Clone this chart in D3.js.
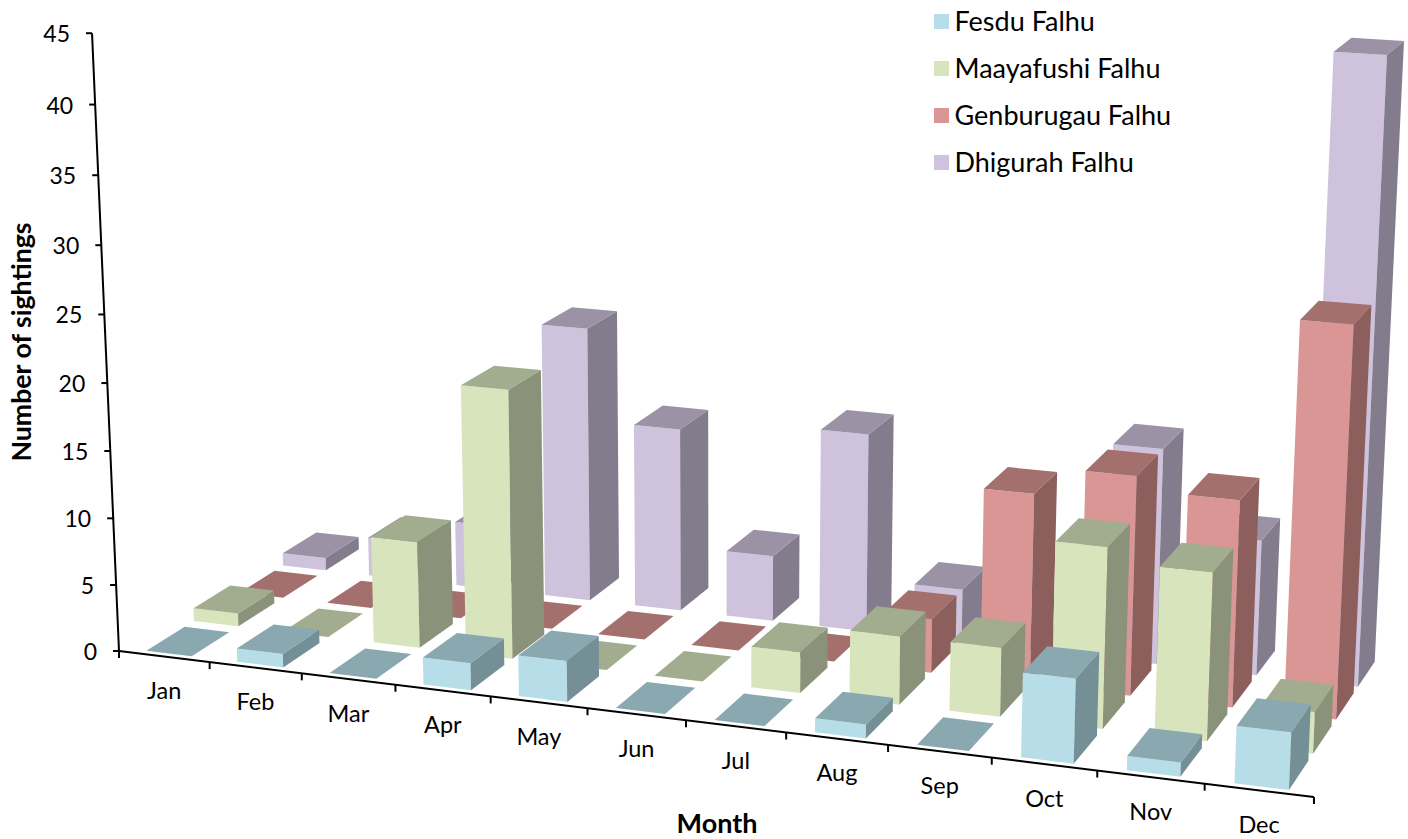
<!DOCTYPE html>
<html lang="en">
<head>
    <meta charset="UTF-8">
    <title>Sightings by month</title>
    <style>
        body { margin: 0; background: #fff; }
        text { font-family: Lato, "Open Sans", sans-serif; fill: #000; }
    </style>
</head>
<body>
    <div id="chart"></div>
    <script src="https://d3js.org/d3.v7.min.js"></script>
    <script>
        // Data
        const months = ["Jan", "Feb", "Mar", "Apr", "May", "Jun", "Jul", "Aug", "Sep", "Oct", "Nov", "Dec"];
        const seriesNames = ["Fesdu Falhu", "Maayafushi Falhu", "Genburugau Falhu", "Dhigurah Falhu"];
        const fesdu = [0, 1, 0, 2, 3, 0, 0, 1, 0, 6, 1, 4];
        const maayafushi = [1, 0, 8, 20, 0, 0, 3, 5, 5, 13, 12, 3];
        const genburugau = [0, 0, 0, 0, 0, 0, 0, 4, 14, 16, 15, 28];
        const dhigurah = [1, 3, 5, 21, 14, 5, 15, 4, 0, 16, 10, 45];
        const valueTicks = [0, 5, 10, 15, 20, 25, 30, 35, 40, 45];

        const seriesValues = [fesdu, maayafushi, genburugau, dhigurah];
        const frontColors = ["#b7dee8", "#d7e4bc", "#d99694", "#cec2dd"];
        const topColors = ["#89a8b0", "#a2ad8f", "#a4706e", "#9b92a5"];
        const sideColors = ["#748f96", "#8a9279", "#8c5f5d", "#827c8c"];

        const width = 1408, height = 839;

        const svg = d3.select("#chart").append("svg")
            .attr("width", width)
            .attr("height", height);

        // Scales in chart space: month along the floor, series into the depth, value upwards
        const x = d3.scaleBand().domain(months).range([0, 12]).paddingInner(0.5).paddingOuter(0.25);
        const z = d3.scaleBand().domain(seriesNames).range([0, 4]).paddingInner(0.2).paddingOuter(0.1);
        const y = d3.scaleLinear().domain([0, 45]).range([0, 1]);

        // Perspective camera (homogeneous matrix), fitted to the reference axes
        function project(u, v, h) {
            const w = 1 - 0.00809 * u + 0.023 * v - 0.04275 * h;
            return [
                (119 + 88.95 * u + 52.1 * v - 30.9 * h) / w,
                (651 + 5.72 * u - 15.4 * v - 619.2 * h) / w
            ];
        }

        const poly = pts => d3.line()(pts) + "Z";

        // Bars, back row first, left to right inside a row
        const bars = svg.append("g");
        d3.range(3, -1, -1).forEach(s => {
            months.forEach((m, i) => {
                const u0 = x(m), u1 = u0 + x.bandwidth();
                const v0 = z(seriesNames[s]), v1 = v0 + z.bandwidth();
                const h = y(seriesValues[s][i]);
                const g = bars.append("g");
                g.append("path")
                    .attr("fill", frontColors[s])
                    .attr("d", poly([project(u0, v0, 0), project(u1, v0, 0), project(u1, v0, h), project(u0, v0, h)]));
                g.append("path")
                    .attr("fill", sideColors[s])
                    .attr("d", poly([project(u1, v0, 0), project(u1, v1, 0), project(u1, v1, h), project(u1, v0, h)]));
                g.append("path")
                    .attr("fill", topColors[s])
                    .attr("d", poly([project(u0, v0, h), project(u1, v0, h), project(u1, v1, h), project(u0, v1, h)]));
            });
        });

        // Value axis
        const axes = svg.append("g").attr("stroke", "#000").attr("stroke-width", 2).attr("fill", "none");
        axes.append("path").attr("d", d3.line()([project(0, 0, y(0)), project(0, 0, y(45))]));
        valueTicks.forEach(t => {
            const p = project(0, 0, y(t));
            axes.append("line").attr("x1", p[0] - 6).attr("x2", p[0]).attr("y1", p[1]).attr("y2", p[1]);
            svg.append("text")
                .attr("x", p[0] - 22)
                .attr("y", p[1])
                .attr("text-anchor", "end")
                .attr("dominant-baseline", "central")
                .attr("font-size", 23)
                .text(t);
        });

        // Month axis
        axes.append("path").attr("d", d3.line()([project(0, 0, 0), project(12, 0, 0)]));
        d3.range(0, 13).forEach(t => {
            const p = project(t, 0, 0);
            axes.append("line").attr("x1", p[0]).attr("x2", p[0]).attr("y1", p[1]).attr("y2", p[1] + 7);
        });
        months.forEach(m => {
            const p = project(x(m) + x.bandwidth() / 2, 0, 0);
            svg.append("text")
                .attr("x", p[0])
                .attr("y", p[1] + 33.5)
                .attr("text-anchor", "middle")
                .attr("dominant-baseline", "central")
                .attr("font-size", 23.5)
                .text(m);
        });

        // Axis titles
        svg.append("text")
            .attr("x", 717)
            .attr("y", 822)
            .attr("text-anchor", "middle")
            .attr("dominant-baseline", "central")
            .attr("font-size", 27)
            .attr("font-weight", 700)
            .text("Month");
        svg.append("text")
            .attr("transform", "translate(21,342) rotate(-90)")
            .attr("text-anchor", "middle")
            .attr("dominant-baseline", "central")
            .attr("font-size", 26.7)
            .attr("font-weight", 700)
            .text("Number of sightings");

        // Legend
        const legend = svg.append("g");
        seriesNames.forEach((name, i) => {
            legend.append("rect")
                .attr("x", 934)
                .attr("y", 14 + i * 47)
                .attr("width", 15)
                .attr("height", 15)
                .attr("fill", frontColors[i]);
            legend.append("text")
                .attr("x", 954.5)
                .attr("y", 20 + i * 47)
                .attr("dominant-baseline", "central")
                .attr("font-size", 27)
                .text(name);
        });
    </script>
</body>
</html>
